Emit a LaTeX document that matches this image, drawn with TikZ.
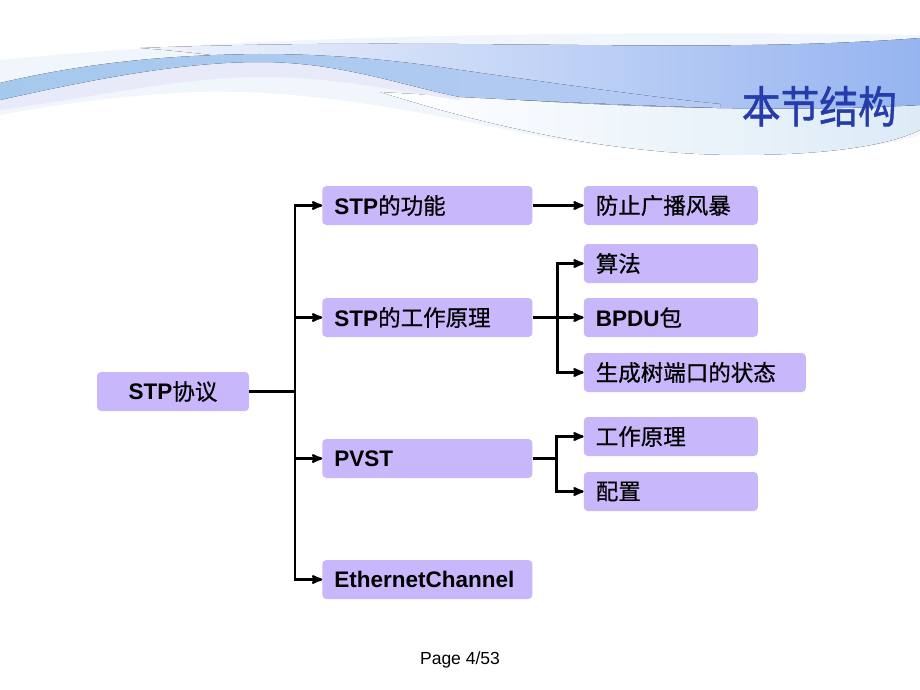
\documentclass[tikz,border=0pt]{standalone}
\usepackage{fontspec}
\setmainfont{Liberation Sans}
\newfontfamily\cjk[FakeBold=0.6]{Noto Sans CJK SC}
\newfontfamily\titlefont[FakeStretch=0.88,FakeBold=1.0]{Noto Sans CJK SC}
\usepackage{color}
\usepackage{tikz}
\usetikzlibrary{arrows}

\definecolor{boxfill}{RGB}{200,183,250}
\definecolor{titleblue}{RGB}{38,60,170}
\definecolor{wavehaze}{RGB}{241,245,252}
\definecolor{waveteal}{RGB}{165,201,236}
\definecolor{waveblue}{RGB}{150,180,240}
\definecolor{wavelav}{RGB}{232,234,250}
\definecolor{wavepale}{RGB}{220,235,246}
\newcommand{\zh}[1]{{\cjk\mdseries #1}}

\begin{document}
\begin{tikzpicture}[x=1pt,y=-1pt,>=stealth',auto]
		\tikzstyle{box}=[fill=boxfill, rounded corners=4pt, minimum height=39pt, inner xsep=12pt, inner ysep=0pt, font=\fontsize{22.5}{26}\selectfont\bfseries]
		\tikzstyle{rootbox}=[box, minimum width=152pt, align=center]
		\tikzstyle{midbox}=[box, anchor=west, text width=186pt, align=left]
		\tikzstyle{leafbox}=[box, anchor=west, text width=150pt, align=left]
		\tikzstyle{widebox}=[box, anchor=west, text width=198pt, align=left]
		\tikzstyle{link}=[line width=2.4pt]

		\useasboundingbox (0,0) rectangle (920,690);

		\fill[wavehaze] (0,60) .. controls (250,35) and (600,30) .. (920,35) -- (920,135) .. controls (850,158) and (700,160) .. (560,140) .. controls (450,120) and (300,80) .. (150,95) .. controls (80,100) and (30,110) .. (0,115) -- cycle;
		\fill[left color=white, right color=wavepale] (380,92) .. controls (470,120) and (600,155) .. (740,155) .. controls (830,155) and (890,145) .. (920,130) -- (920,105) .. controls (800,110) and (600,105) .. (380,92) -- cycle;
		\fill[left color=wavehaze, right color=waveblue] (140,48) .. controls (450,36) and (700,55) .. (920,38) -- (920,105) .. controls (800,112) and (650,108) .. (520,100) .. controls (400,92) and (300,60) .. (140,48) -- cycle;
		\fill[wavelav] (0,100) .. controls (90,78) and (180,62) .. (260,62) .. controls (340,62) and (400,85) .. (460,97) -- (460,100) .. controls (400,92) and (340,77) .. (260,77) .. controls (180,77) and (90,98) .. (0,110) -- cycle;
		\fill[left color=waveteal, right color=waveblue!70] (0,83) .. controls (90,62) and (170,55) .. (260,54) .. controls (340,54) and (410,62) .. (460,70) .. controls (560,84) and (650,97) .. (720,104) -- (720,108) .. controls (600,104) and (520,100) .. (460,97) .. controls (400,85) and (340,62) .. (260,62) .. controls (180,62) and (90,80) .. (0,100) -- cycle;

		\node [text=titleblue, font=\titlefont\fontsize{44}{48}\selectfont, anchor=base east, inner sep=0pt] (title) at (897,123) {本节结构};

		\node [rootbox] (stp) at (173,391.5) {STP\zh{协议}};
		\node [midbox] (func) at ([xshift=73pt,yshift=186pt]stp.east) {STP\zh{的功能}};
		\node [midbox] (work) at ([yshift=-112pt]func.west) {STP\zh{的工作原理}};
		\node [midbox] (pvst) at ([yshift=-141pt]work.west) {PVST};
		\node [midbox] (ec) at ([yshift=-121pt]pvst.west) {EthernetChannel};
		\node [leafbox] (storm) at ([xshift=51pt]func.east) {\zh{防止广播风暴}};
		\node [leafbox] (algo) at ([xshift=51pt,yshift=54pt]work.east) {\zh{算法}};
		\node [leafbox] (bpdu) at ([xshift=51pt]work.east) {BPDU\zh{包}};
		\node [widebox] (state) at ([xshift=51pt,yshift=-55pt]work.east) {\zh{生成树端口的状态}};
		\node [leafbox] (wp) at ([xshift=51pt,yshift=22pt]pvst.east) {\zh{工作原理}};
		\node [leafbox] (cfg) at ([xshift=51pt,yshift=-33pt]pvst.east) {\zh{配置}};

		\coordinate (trunk) at ([xshift=46pt]stp.east);
		\coordinate (fork1) at ([xshift=25pt]work.east);
		\coordinate (fork2) at ([xshift=24pt]pvst.east);

		\draw [link] (stp.east) -- (trunk);
		\foreach \n in {func,work,pvst,ec}
			\draw [link,->] (trunk) |- (\n.west);
		\draw [link,->] (func.east) -- (storm.west);
		\draw [link] (work.east) -- (fork1);
		\foreach \n in {algo,bpdu,state}
			\draw [link,->] (fork1) |- (\n.west);
		\draw [link] (pvst.east) -- (fork2);
		\foreach \n in {wp,cfg}
			\draw [link,->] (fork2) |- (\n.west);

		\node [font=\fontsize{17.5}{20}\selectfont] (page) at (460,660) {Page 4/53};
	\end{tikzpicture}
\end{document}
